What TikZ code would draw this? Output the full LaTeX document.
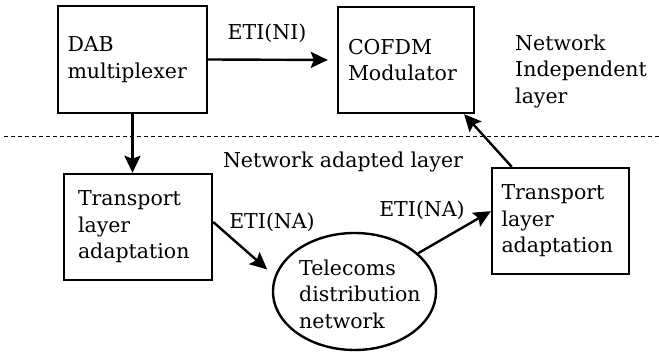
\documentclass[tikz,border=0pt]{standalone}
\usepackage{fontspec}
\setmainfont{DejaVu Serif}
\usetikzlibrary{arrows.meta,shapes.geometric}
\begin{document}
\begin{tikzpicture}[x=1pt,y=-1pt,
  every node/.style={font=\fontsize{20.5}{26.5}\selectfont},
  blk/.style={draw, line width=2.4pt, align=left, anchor=center},
  arr/.style={line width=2.4pt, -{Stealth[length=17pt,width=16pt,inset=3pt]}},
  lbl/.style={inner sep=0pt}]
\useasboundingbox (0,0) rectangle (659,352);
\node[blk, minimum width=149, minimum height=107, text width=130] (dab) at (132.5,59.5) {DAB\\multiplexer};
\node[blk, minimum width=136, minimum height=106, text width=116] (co) at (406,60) {COFDM\\Modulator};
\node[blk, minimum width=148, minimum height=106, text width=120] (lt) at (138,227) {Transport\\layer\\adaptation};
\node[blk, minimum width=137, minimum height=106, text width=118] (rb) at (560.5,221) {Transport\\layer\\adaptation};
\node[draw, ellipse, line width=2.4pt, minimum width=163, minimum height=117, inner sep=0pt] (ell) at (354.5,291.5) {};
\node[lbl, anchor=west, align=left] (elltext) at (299,294) {Telecoms\\distribution\\network};
\node[lbl, anchor=west, align=left] (ni) at (515,71) {Network\\Independent\\layer};
\node[lbl] (etini) at (267,33) {ETI(NI)};
\node[lbl] (nal) at (343,162) {Network adapted layer};
\node[lbl] (etina1) at (272,222) {ETI(NA)};
\node[lbl] (etina2) at (422,210) {ETI(NA)};
\coordinate (dl) at (4,137);
\coordinate (dr) at (659,137);
\draw[line width=1pt, dash pattern=on 4pt off 3pt] (dl) -- (dr);
\draw[arr, shorten >=9pt] (dab.east) -- (co.west);
\draw[arr] (dab.south) -- (dab.south |- lt.north);
\draw[arr, shorten >=10pt] (lt.east) ++(0,-5) coordinate (ltout) -- (ell.169);
\draw[arr] (ell.31) -- (rb.172);
\draw[arr] (rb.132) -- (co.-43);
\end{tikzpicture}
\end{document}
